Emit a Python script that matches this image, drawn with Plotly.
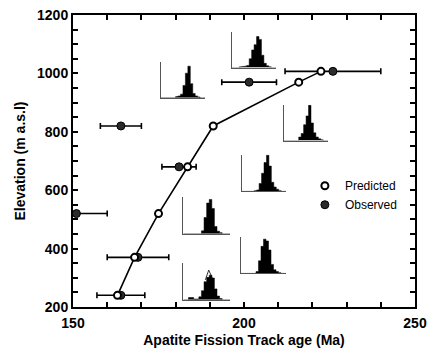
import plotly.graph_objects as go

# ---------------- data ----------------
pred_age = [163.0, 168.0, 175.0, 183.5, 191.0, 216.0, 222.5]
pred_elev = [240, 370, 520, 680, 820, 970, 1007]

obs_age = [164.0, 169.0, 151.0, 181.0, 164.0, 201.5, 226.0]
obs_elev = [240, 370, 520, 680, 820, 970, 1007]
obs_err = [7.0, 9.0, 9.0, 5.0, 6.0, 8.0, 14.0]

x_ticks = [150, 200, 250]
y_ticks = [200, 400, 600, 800, 1000, 1200]

hist_bins = list(range(19))  # bin edges 0..18
hist_a = [0, 0, 0, 0, 0, 0, 0.03, 0.05, 0.1, 0.35, 0.7, 0.9, 0.4, 0.12, 0.05, 0.02, 0, 0]
hist_b = [0, 0, 0, 0.02, 0.03, 0.04, 0.06, 0.25, 0.5, 0.65, 0.88, 0.8, 0.35, 0.12, 0.05, 0.02, 0, 0]
hist_c = [0, 0, 0, 0, 0, 0, 0.1, 0.2, 0.45, 0.7, 1.0, 0.5, 0.22, 0.1, 0.05, 0.02, 0, 0]
hist_d = [0, 0, 0, 0, 0, 0.02, 0.04, 0.22, 0.5, 0.8, 1.0, 0.7, 0.25, 0.12, 0.06, 0.02, 0, 0]
hist_e = [0, 0, 0, 0, 0, 0, 0.05, 0.35, 0.75, 0.95, 0.9, 0.65, 0.25, 0.1, 0.05, 0.02, 0, 0]
hist_f = [0, 0, 0, 0, 0, 0, 0, 0.08, 0.45, 0.85, 0.95, 0.7, 0.2, 0.07, 0.03, 0, 0, 0]
hist_g = [0, 0, 0.06, 0.06, 0.02, 0.02, 0.08, 0.25, 0.5, 0.62, 0.68, 0.6, 0.3, 0.1, 0.03, 0, 0, 0]
hist_g_fit_x = [8.5, 9.8, 11.2]
hist_g_fit_y = [0.55, 0.82, 0.6]

hist_list = [hist_a, hist_b, hist_c, hist_d, hist_e, hist_f, hist_g]

# ---------------- figure ----------------
FONT = "Liberation Sans, Arial, Helvetica, sans-serif"
fig = go.Figure()

# predicted path (line only, no legend)
fig.add_trace(go.Scatter(
    x=pred_age, y=pred_elev, mode="lines", showlegend=False,
    line=dict(color="black", width=1.6), hoverinfo="skip",
))
fig.add_trace(go.Scatter(
    x=obs_age, y=obs_elev, mode="markers", name="Observed",
    marker=dict(symbol="circle", size=8, color="#2b2b2b",
                line=dict(color="black", width=1)),
    error_x=dict(type="data", array=obs_err, visible=True,
                 color="black", thickness=1.6, width=3),
))
fig.add_trace(go.Scatter(
    x=pred_age, y=pred_elev, mode="markers", name="Predicted",
    marker=dict(symbol="circle", size=7, color="white",
                line=dict(color="black", width=2)),
))

domains = [
    ([0.257, 0.386], [0.717, 0.839]),
    ([0.465, 0.594], [0.820, 0.943]),
    ([0.617, 0.746], [0.570, 0.693]),
    ([0.494, 0.623], [0.396, 0.522]),
    ([0.491, 0.623], [0.115, 0.241]),
    ([0.3225, 0.459], [0.251, 0.377]),
    ([0.3225, 0.459], [0.025, 0.151]),
]

for i, (h, (dx, dy)) in enumerate(zip(hist_list, domains)):
    k = i + 2
    fig.add_trace(go.Scatter(
        x=hist_bins, y=h + [h[-1]], mode="lines", line_shape="hv",
        line=dict(color="black", width=0.5), fill="tozeroy",
        fillcolor="black",
        xaxis=f"x{k}", yaxis=f"y{k}", showlegend=False, hoverinfo="skip",
    ))
    ax = dict(domain=dx, range=[0, 18], showline=True, linecolor="#555",
              linewidth=1, showticklabels=False, ticks="", showgrid=False,
              zeroline=False, anchor=f"y{k}")
    ay = dict(domain=dy, range=[0, 1.02], showline=True, linecolor="#555",
              linewidth=1, showticklabels=False, ticks="", showgrid=False,
              zeroline=False, anchor=f"x{k}")
    fig.update_layout(**{f"xaxis{k}": ax, f"yaxis{k}": ay})
    if i == 6:
        fig.add_trace(go.Scatter(
            x=hist_g_fit_x, y=hist_g_fit_y, mode="lines",
            line=dict(color="black", width=0.8),
            xaxis=f"x{k}", yaxis=f"y{k}", showlegend=False, hoverinfo="skip",
        ))

fig.update_layout(
    width=430, height=356, autosize=False,
    margin=dict(l=73, r=15, t=15, b=49, pad=0),
    paper_bgcolor="white", plot_bgcolor="rgba(0,0,0,0)",
    font=dict(family=FONT, color="black"),
    showlegend=True,
    legend=dict(x=0.678, y=0.465, xanchor="left", yanchor="top",
                traceorder="reversed", bgcolor="rgba(0,0,0,0)",
                font=dict(size=12, family=FONT), itemwidth=30,
                tracegroupgap=0),
    xaxis=dict(
        range=[150, 250], tickvals=x_ticks, ticks="inside", ticklen=5,
        tickwidth=1.5, tickcolor="black", showline=True, linecolor="black",
        linewidth=2, mirror="allticks", showgrid=False, zeroline=False,
        tickfont=dict(size=14, weight="bold"), automargin=False,
        ticklabelstandoff=2,
        minor=dict(dtick=10, tick0=150, ticks="inside", ticklen=5,
                   tickwidth=1.5, tickcolor="black"),
        title=dict(text="Apatite Fission Track age (Ma)",
                   font=dict(size=14, weight="bold"), standoff=5),
        anchor="y",
    ),
    yaxis=dict(
        range=[200, 1200], tickvals=y_ticks, ticks="inside", ticklen=5,
        tickwidth=1.5, tickcolor="black", showline=True, linecolor="black",
        linewidth=2, mirror="allticks", showgrid=False, zeroline=False,
        tickfont=dict(size=14, weight="bold"), automargin=False,
        minor=dict(dtick=50, tick0=200, ticks="inside", ticklen=5,
                   tickwidth=1.5, tickcolor="black"),
        title=dict(text="Elevation (m a.s.l)",
                   font=dict(size=14, weight="bold"), standoff=8),
        anchor="x",
    ),
)

fig.write_html("out.html")
